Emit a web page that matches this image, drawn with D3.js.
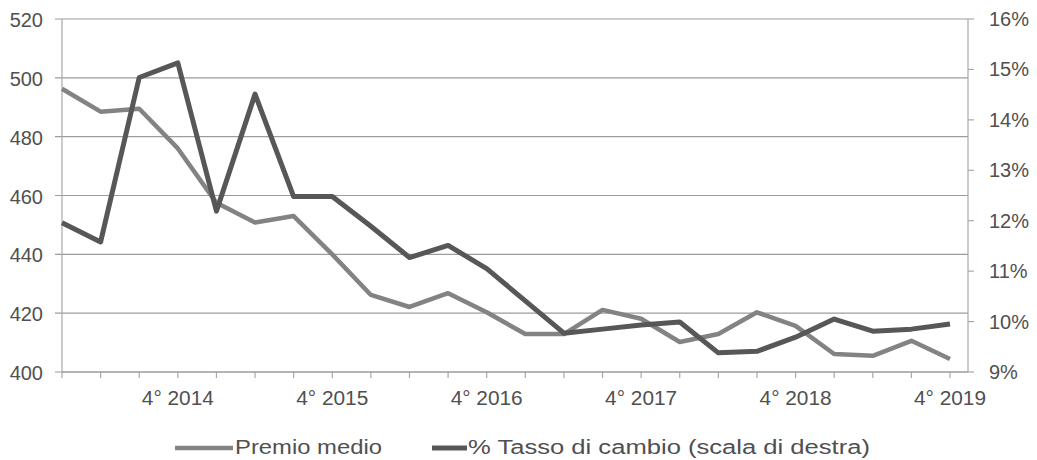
<!DOCTYPE html>
<html><head><meta charset="utf-8">
<script src="https://cdn.jsdelivr.net/npm/d3@7"></script>
<style>body{margin:0;background:#fff;} svg{display:block;} text{font-family:"Liberation Sans",Arial,sans-serif;fill:#505050;}</style>
</head><body><svg id="c" width="1037" height="460"></svg>
<script>
const quarters = ["1° 2014","2° 2014","3° 2014","4° 2014","1° 2015","2° 2015","3° 2015","4° 2015","1° 2016","2° 2016","3° 2016","4° 2016","1° 2017","2° 2017","3° 2017","4° 2017","1° 2018","2° 2018","3° 2018","4° 2018","1° 2019","2° 2019","3° 2019","4° 2019"];
const premioMedio = [496.3,488.5,489.5,476,457.5,450.8,453,440,426.2,422.1,426.8,420.3,412.9,412.9,421.1,418.1,410.2,412.9,420.3,415.7,406.1,405.5,410.6,404.4];
const tassoCambio = [11.96,11.58,14.84,15.13,12.19,14.51,12.48,12.48,11.89,11.27,11.51,11.05,10.41,9.77,9.85,9.93,9.99,9.38,9.41,9.69,10.05,9.81,9.85,9.95];
const leftTicks = [400,420,440,460,480,500,520];
const rightTicks = [9,10,11,12,13,14,15,16];
const seriesNames = ["Premio medio","% Tasso di cambio (scala di destra)"];

const svg = d3.select("#c");
const L=62, R=968, T=19, B=372;
const x = d3.scaleLinear().domain([0,23]).range([62,950]);
const yL = d3.scaleLinear().domain([400,520]).range([B,T]);
const yR = d3.scaleLinear().domain([9,16]).range([B,T]);
const axisCol = "#a8a8a8";

// gridlines
svg.append("g").selectAll("line").data(leftTicks).join("line")
  .attr("x1",L-7).attr("x2",R).attr("y1",d=>yL(d)).attr("y2",d=>yL(d))
  .attr("stroke","#9c9c9c").attr("stroke-width",1.2);
svg.append("line").attr("x1",L).attr("x2",L).attr("y1",T).attr("y2",B).attr("stroke",axisCol).attr("stroke-width",1.2);
svg.append("line").attr("x1",R).attr("x2",R).attr("y1",T).attr("y2",B).attr("stroke",axisCol).attr("stroke-width",1.2);
svg.append("g").selectAll("line").data(rightTicks).join("line")
  .attr("x1",R).attr("x2",R+6).attr("y1",d=>yR(d)).attr("y2",d=>yR(d)).attr("stroke",axisCol).attr("stroke-width",1.2);
svg.append("g").selectAll("line").data(d3.range(quarters.length)).join("line")
  .attr("x1",d=>x(d)).attr("x2",d=>x(d)).attr("y1",B).attr("y2",B+6).attr("stroke",axisCol).attr("stroke-width",1.2);
svg.append("line").attr("x1",L).attr("x2",R).attr("y1",B).attr("y2",B).attr("stroke","#9c9c9c").attr("stroke-width",1.2);

// left labels
svg.append("g").selectAll("text").data(leftTicks).join("text")
  .attr("x",43).attr("y",d=>yL(d)+8).attr("text-anchor","end").attr("font-size",20).text(d=>d);
// right labels
svg.append("g").selectAll("text").data(rightTicks).join("text")
  .attr("x",989).attr("y",d=>yR(d)+7).attr("text-anchor","start").attr("font-size",20).text(d=>d+"%");
// x labels
svg.append("g").selectAll("text").data(quarters.map((q,i)=>({q,i})).filter(d=>d.q.startsWith("4°"))).join("text")
  .attr("x",d=>x(d.i)).attr("y",405).attr("text-anchor","middle").attr("font-size",20)
  .attr("textLength",72).attr("lengthAdjust","spacingAndGlyphs").text(d=>d.q);

// lines
const lp = d3.line().x((d,i)=>x(i)).y(d=>yL(d));
const lt = d3.line().x((d,i)=>x(i)).y(d=>yR(d));
svg.append("path").attr("d",lp(premioMedio)).attr("fill","none").attr("stroke","#838383").attr("stroke-width",4.5).attr("stroke-linejoin","round");
svg.append("path").attr("d",lt(tassoCambio)).attr("fill","none").attr("stroke","#575757").attr("stroke-width",5).attr("stroke-linejoin","round");

// legend
const lg = svg.append("g");
lg.append("line").attr("x1",175).attr("x2",233).attr("y1",448).attr("y2",448).attr("stroke","#838383").attr("stroke-width",4.5);
lg.append("text").attr("x",235).attr("y",454).attr("font-size",20)
  .attr("textLength",147).attr("lengthAdjust","spacingAndGlyphs").text(seriesNames[0]);
lg.append("line").attr("x1",432).attr("x2",467).attr("y1",448).attr("y2",448).attr("stroke","#575757").attr("stroke-width",5);
lg.append("text").attr("x",468).attr("y",454).attr("font-size",20)
  .attr("textLength",402).attr("lengthAdjust","spacingAndGlyphs").text(seriesNames[1]);
</script></body></html>
